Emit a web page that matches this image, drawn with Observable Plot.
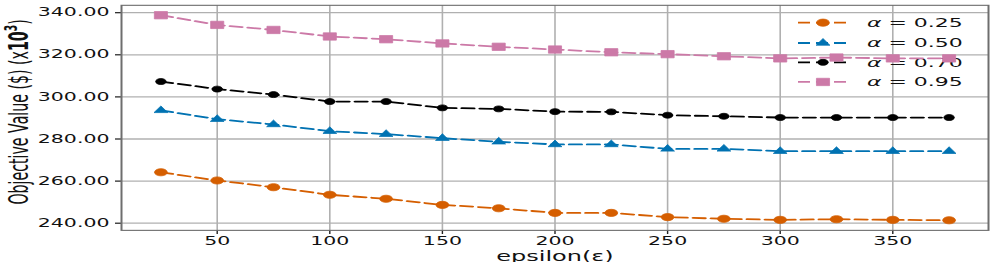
<!DOCTYPE html>
<html><head><meta charset="utf-8">
<script src="https://cdn.jsdelivr.net/npm/d3@7"></script>
<script src="https://cdn.jsdelivr.net/npm/@observablehq/plot@0.6"></script>
<style>
body{margin:0;background:#fff;}
#chart{width:997px;height:262px;overflow:hidden;background:#fff;}
</style>
</head><body><div id="chart"></div>
<script>
// ---- data ----
const epsilon = [25, 50, 75, 100, 125, 150, 175, 200, 225, 250, 275, 300, 325, 350, 375];
const alpha025 = [264.2, 260.3, 257.1, 253.5, 251.6, 248.7, 247.1, 244.9, 244.9, 242.9, 242.1, 241.6, 241.9, 241.6, 241.4];
const alpha050 = [293.6, 289.4, 286.9, 283.7, 282.3, 280.4, 278.7, 277.4, 277.4, 275.3, 275.3, 274.2, 274.2, 274.2, 274.2];
const alpha070 = [307.3, 303.7, 301.1, 297.8, 297.8, 294.8, 294.3, 293.0, 292.9, 291.3, 290.8, 290.2, 290.2, 290.2, 290.2];
const alpha095 = [338.8, 334.2, 331.8, 328.7, 327.4, 325.4, 323.8, 322.5, 321.2, 320.3, 319.3, 318.3, 318.7, 318.3, 318.3];
const seriesLabels = ["0.25", "0.50", "0.70", "0.95"];
const xTicks = [50, 100, 150, 200, 250, 300, 350];
const yTicks = [240, 260, 280, 300, 320, 340];

// ---- styles ----
const seriesValues = [alpha025, alpha050, alpha070, alpha095];
const seriesColors = ["#d55e00", "#0072b2", "#000000", "#cc79a7"];
const seriesSymbols = ["circle", "triangle", "circle", "square"];
const seriesRadius = [6.4, 5.1, 5.3, 7.4];
const W = 997, H = 468, OUT_H = 262;
const FONT = "DejaVu Sans";

const rows = seriesValues.map((vals, i) =>
  epsilon.map((e, j) => ({eps: e, value: vals[j], series: seriesLabels[i]})));

const marks = [
  Plot.gridX(xTicks, {stroke: "#b0b0b0", strokeOpacity: 1, strokeWidth: 1.6}),
  Plot.gridY(yTicks, {stroke: "#b0b0b0", strokeOpacity: 1, strokeWidth: 2.3}),
  Plot.axisY(yTicks, {tickFormat: d => d.toFixed(2), tickSize: 6, tickPadding: 6, fontSize: 20.5, label: null, strokeWidth: 2.2, stroke: "#222"}),
  Plot.axisX(xTicks, {tickFormat: d => String(d), tickSize: 7, tickPadding: 5, fontSize: 20.5, label: null, strokeWidth: 1.4, stroke: "#222"})
];
rows.forEach((data, i) => {
  marks.push(Plot.line(data, {x: "eps", y: "value", stroke: seriesColors[i], strokeWidth: 3.2, strokeDasharray: "12,6"}));
  marks.push(Plot.dot(data, {x: "eps", y: "value", fill: seriesColors[i], stroke: seriesColors[i], strokeWidth: 1, symbol: seriesSymbols[i], r: seriesRadius[i]}));
});
marks.push(Plot.frame({stroke: "#6e6e6e", strokeWidth: 2}));

const svg = Plot.plot({
  width: W, height: H,
  marginLeft: 121, marginRight: 9, marginTop: 9, marginBottom: 57,
  style: {fontFamily: FONT, color: "#111", background: "#fff"},
  x: {domain: [7.5, 392.5]},
  y: {domain: [236.6, 343.5]},
  marks
});
svg.setAttribute("preserveAspectRatio", "none");
svg.setAttribute("height", OUT_H);
svg.style.width = W + "px";
svg.style.height = OUT_H + "px";
svg.style.maxWidth = "none";

const s = d3.select(svg);
// y label
const yl = s.append("text")
  .attr("transform", "translate(28,200) rotate(-90)")
  .attr("text-anchor", "middle")
  .attr("font-family", FONT).attr("font-size", 26).attr("fill", "#111")
  .attr("textLength", 331).attr("lengthAdjust", "spacingAndGlyphs");
yl.append("tspan").text("Objective Value ($) (x");
yl.append("tspan").attr("font-weight", "bold").text("10");
yl.append("tspan").attr("font-weight", "bold").attr("font-size", 17).attr("dy", -11).text("3");
yl.append("tspan").attr("dy", 11).text(")");

// x label
s.append("text")
  .attr("x", 555).attr("y", 466)
  .attr("text-anchor", "middle")
  .attr("font-family", FONT).attr("font-size", 24).attr("fill", "#111")
  .text("epsilon(ε)");

// legend (under the data lines)
const legendY = [40.5, 76.8, 111.3, 146.4];
const lg = s.insert("g", () => svg.querySelector("g[aria-label='line']"));
seriesLabels.forEach((lab, i) => {
  const g = lg.append("g").attr("transform", `translate(0,${legendY[i]})`);
  g.append("line").attr("x1", 798).attr("x2", 848).attr("y1", 0).attr("y2", 0)
    .attr("stroke", seriesColors[i]).attr("stroke-width", 3.2).attr("stroke-dasharray", "12,6");
  const sym = {circle: d3.symbolCircle, triangle: d3.symbolTriangle, square: d3.symbolSquare}[seriesSymbols[i]];
  g.append("path").attr("transform", "translate(823,0)")
    .attr("d", d3.symbol(sym, Math.PI * seriesRadius[i] * seriesRadius[i])())
    .attr("fill", seriesColors[i]).attr("stroke", seriesColors[i]);
  const t = g.append("text").attr("x", 867).attr("y", 8)
    .attr("text-anchor", "start")
    .attr("font-family", FONT).attr("font-size", 22).attr("fill", "#111");
  t.append("tspan").attr("font-style", "italic").text("α");
  t.append("tspan").text(" = " + lab);
});

document.getElementById("chart").appendChild(svg);
</script>
</body></html>
